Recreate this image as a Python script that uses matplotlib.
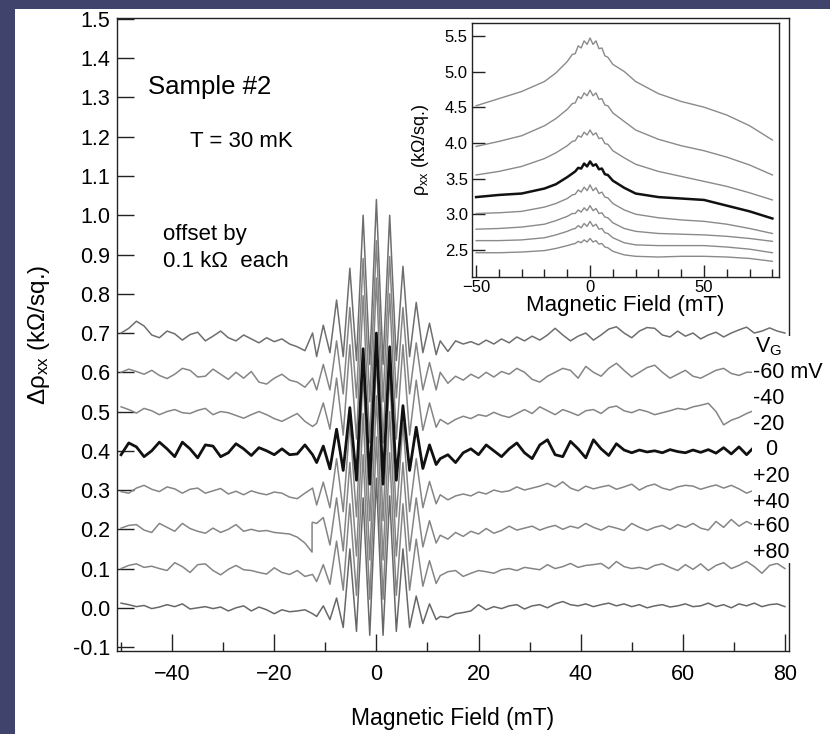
import numpy as np
import matplotlib
matplotlib.use("Agg")
import matplotlib.pyplot as plt
from matplotlib.patches import Rectangle
from matplotlib.ticker import MultipleLocator, FormatStrFormatter

plt.rcParams["font.family"] = ["Liberation Sans", "DejaVu Sans"]
plt.rcParams["mathtext.fontset"] = "custom"
plt.rcParams["mathtext.rm"] = "Liberation Sans"
plt.rcParams["mathtext.it"] = "Liberation Sans:italic"
plt.rcParams["lines.solid_joinstyle"] = "round"

# field grids (mT)
field_left = np.arange(-50.0, -12.0, 1.5)
field_mid = np.arange(-11.7, 11.8, 1.3)
field_right = np.arange(12.5, 80.1, 1.5)

# gate voltages / offsets (kOhm)
gate_labels = ["-60 mV", "-40", "-20", "0", "+20", "+40", "+60", "+80"]
offsets = [0.7, 0.6, 0.5, 0.4, 0.3, 0.2, 0.1, 0.0]

# deviations from offset, in Ohm
m60_left = [0, 12, 30, 18, -5, -12, 5, -2, -18, -4, 2, -20, -8, 5, -12, -20, -5, -15, -25, -12, -22, -15, -28, -35, -45, 0]
m60_mid = [-60, 20, -50, 84, -60, 165, -70, 300, -80, 340, -80, 300, -70, 170, -60, 78, -50, 25, -55]
m60_right = [-20, -47, -20, -28, -22, -30, -18, -28, -15, -25, -10, -20, -8, -18, -5, 12, -5, -20, -8, 0, -18, -5, 10, 16, 0, -12, 5, 14, 12, -5, -10, 5, -8, 0, -15, -5, 2, -10, 0, 8, 15, 0, 5, 13, 5, 0]

m40_left = [0, 8, 2, -5, 5, -8, -16, -5, 10, 5, -12, -10, 8, -5, -18, 0, -15, 2, -25, -30, -15, -5, -20, -25, -38, -15]
m40_mid = [-45, 20, -45, 80, -55, 165, -65, 290, -75, 335, -75, 295, -65, 165, -55, 75, -45, 25, -45]
m40_right = [0, -28, -10, -20, -5, -15, 0, -12, 2, -5, 10, 0, -18, -25, -10, 0, 10, 5, -15, 15, 0, -10, 10, 23, 5, -12, 0, 12, 18, 0, -15, -5, 5, -10, -15, -5, 5, 10, -3, -8, 0, 0, -5, 0, 3, 0]

m20_left = [12, 5, -4, 8, 2, -8, 0, 5, -3, -5, 3, 8, -8, 0, -3, -10, -17, -8, 0, -8, -18, -25, -15, -5, -25, -38]
m20_mid = [-30, 22, -45, 85, -60, 170, -70, 295, -80, 340, -80, 300, -70, 170, -60, 80, -48, 22, -40]
m20_right = [-20, -32, -20, -12, -18, -8, -12, -2, -10, -15, -5, 5, -5, 12, 2, -8, 5, -2, -10, 2, 5, -5, 10, 14, 2, -3, 5, 0, -8, -3, 2, 8, 5, 12, 16, 21, 0, -34, -22, -15, -5, 3, 5, 5, 5, 5]

zero_left = [-10, 20, 10, -15, 0, 22, 5, -15, 22, 5, -18, 15, 12, -15, -5, 18, 5, -12, 8, 0, -10, 5, -10, -8, 15, -10]
zero_mid = [-30, 12, -46, 55, -50, 110, -75, 260, -85, 300, -85, 265, -75, 115, -50, 60, -45, 15, -35]
zero_right = [-20, -10, -30, -5, 5, -10, 15, 0, -15, 5, 20, -5, -20, 15, 28, -10, -15, 24, 5, -18, 28, 5, -12, 18, 2, -5, 2, -3, 0, -5, 3, -2, -5, 2, -4, 3, -6, 8, -8, 10, -10, 10, -10, 8, -8, 5]

p20_left = [-4, -8, 5, 12, 2, -4, 8, 3, -8, 2, 5, -8, -2, 4, -10, -3, -12, -2, -8, -12, -5, -8, -18, -22, -8, 5]
p20_mid = [-38, 20, -45, 80, -55, 170, -68, 295, -78, 340, -78, 300, -68, 170, -55, 80, -45, 22, -35]
p20_right = [-12, -25, -15, -10, -15, -5, -10, 0, -5, -2, 8, 0, 5, 10, 17, 8, 21, 5, -2, 10, 3, 8, 12, 2, 8, 15, 0, 10, 15, 5, 0, 8, 12, 10, 2, 8, 13, 5, 12, 3, -8, 0, 5, 0, 3, 0]

p40_left = [3, 10, 12, -2, -8, 15, 5, -5, 15, 2, -5, -10, 3, -8, 0, 12, -5, 0, -5, -3, -8, -10, -12, -20, -35, 18]
p40_mid = [15, 30, -40, 80, -55, 170, -68, 295, -78, 340, -78, 300, -68, 170, -55, 80, -45, 22, -35]
p40_right = [-15, -25, -8, -18, -5, -12, 2, -10, -3, 8, -2, 3, 8, -2, 5, 10, 0, 8, 3, 15, 5, -2, 8, 3, -3, 15, 5, -3, 5, 10, 0, 12, 5, 15, 3, -2, 20, 5, 25, 8, 20, 10, 5, 12, 5, 8]
# step in the +40 trace
p40_jump_field = -12.6
p40_jump_values = [-58, 16]

p60_left = [0, 8, 12, 3, 6, 0, -5, 15, 5, -10, 10, 12, -5, -16, -2, 8, -3, -5, -10, -14, 2, -10, -15, -5, -20, -15]
p60_mid = [-33, 10, -40, 70, -55, 165, -68, 290, -78, 335, -78, 295, -68, 165, -55, 75, -45, 20, -38]
p60_right = [-18, -8, -5, -20, -12, -5, -8, -12, -3, 0, -5, 3, 0, -3, 10, 0, 5, 13, 3, 8, 10, 13, 0, 18, 5, 0, 3, -2, 8, 12, 3, -5, 10, -2, 12, -5, 8, 15, 0, 8, 18, 5, -12, 8, 13, 0]

p80_left = [12, 8, 3, 6, -2, 2, 8, 3, 10, -3, 0, 3, -2, 2, -8, 0, 5, -8, 2, -5, -15, -5, -10, -8, -5, -15]
p80_mid = [-22, 5, -30, 25, -50, 150, -60, 280, -70, 330, -70, 285, -60, 150, -50, 30, -40, 10, -30]
p80_right = [-22, -25, -15, -12, -8, 8, -5, 3, -2, 5, 8, -3, 5, 8, 0, 10, 16, 8, 5, 10, 3, 8, 12, 5, 10, 3, 8, 0, 5, 8, 2, 5, 10, 3, 5, 12, 3, 8, 0, 10, 5, 12, 3, 8, 10, 3]

# inset: rho_xx (kOhm/sq.) vs field
inset_field = [-50, -40, -30, -20, -15, -10, -7.8, -6.5, -5.2, -3.9, -2.6, -1.3, 0, 1.3, 2.6, 3.9, 5.2, 6.5, 7.8, 10, 15, 20, 30, 40, 50, 60, 70, 80]
in_m60 = [4.52, 4.62, 4.72, 4.86, 4.98, 5.14, 5.24, 5.25, 5.36, 5.33, 5.43, 5.38, 5.47, 5.38, 5.43, 5.32, 5.33, 5.22, 5.20, 5.10, 5.00, 4.86, 4.69, 4.58, 4.50, 4.39, 4.24, 4.04]
in_m40 = [3.95, 4.02, 4.10, 4.24, 4.34, 4.47, 4.55, 4.56, 4.65, 4.62, 4.70, 4.66, 4.74, 4.66, 4.70, 4.61, 4.62, 4.53, 4.52, 4.42, 4.30, 4.18, 4.05, 3.96, 3.89, 3.80, 3.69, 3.55]
in_m20 = [3.55, 3.60, 3.67, 3.78, 3.86, 3.96, 4.02, 4.03, 4.10, 4.08, 4.15, 4.11, 4.18, 4.11, 4.14, 4.06, 4.07, 3.99, 3.98, 3.89, 3.79, 3.70, 3.60, 3.53, 3.46, 3.39, 3.30, 3.20]
in_0 = [3.24, 3.27, 3.29, 3.36, 3.42, 3.52, 3.57, 3.60, 3.65, 3.64, 3.71, 3.67, 3.74, 3.68, 3.70, 3.63, 3.64, 3.56, 3.55, 3.47, 3.37, 3.29, 3.24, 3.22, 3.20, 3.12, 3.04, 2.94]
in_p20 = [3.01, 3.02, 3.04, 3.10, 3.15, 3.22, 3.27, 3.28, 3.34, 3.31, 3.38, 3.33, 3.41, 3.33, 3.37, 3.29, 3.31, 3.24, 3.23, 3.15, 3.06, 3.00, 2.95, 2.92, 2.90, 2.86, 2.80, 2.73]
in_p40 = [2.79, 2.80, 2.82, 2.86, 2.91, 2.97, 3.01, 3.01, 3.06, 3.03, 3.09, 3.05, 3.12, 3.05, 3.08, 3.01, 3.02, 2.96, 2.95, 2.88, 2.80, 2.76, 2.73, 2.72, 2.71, 2.69, 2.66, 2.62]
in_p60 = [2.63, 2.63, 2.64, 2.67, 2.71, 2.76, 2.79, 2.80, 2.84, 2.81, 2.87, 2.83, 2.90, 2.83, 2.86, 2.79, 2.80, 2.74, 2.73, 2.67, 2.60, 2.57, 2.56, 2.56, 2.56, 2.54, 2.51, 2.46]
in_p80 = [2.46, 2.46, 2.47, 2.49, 2.52, 2.56, 2.58, 2.59, 2.62, 2.60, 2.64, 2.61, 2.66, 2.61, 2.63, 2.58, 2.59, 2.54, 2.53, 2.48, 2.43, 2.41, 2.40, 2.41, 2.41, 2.40, 2.38, 2.34]


def trace(left, mid, right):
    b = np.concatenate([field_left, field_mid, field_right])
    d = np.concatenate([left, mid, right]) / 1000.0
    return b, d


fig = plt.figure(figsize=(8.3, 7.34), dpi=100, facecolor="#40436c")
fig.patches.append(Rectangle((15 / 830, 0), 1, 1 - 9 / 734, transform=fig.transFigure,
                             facecolor="white", edgecolor="none", zorder=-10))

ax = fig.add_axes([117 / 830, 1 - 651 / 734, 672 / 830, 633 / 734])
ax.set_facecolor("none")

gray = "#858585"
series = [
    (m60_left, m60_mid, m60_right, "#6e6e6e", 1.1),
    (m40_left, m40_mid, m40_right, gray, 1.1),
    (m20_left, m20_mid, m20_right, gray, 1.1),
    (zero_left, zero_mid, zero_right, "#111111", 2.0),
    (p20_left, p20_mid, p20_right, gray, 1.1),
    (p40_left, p40_mid, p40_right, gray, 1.1),
    (p60_left, p60_mid, p60_right, gray, 1.1),
    (p80_left, p80_mid, p80_right, "#686868", 1.1),
]
for i, (l, m, r, c, lw) in enumerate(series):
    b, d = trace(l, m, r)
    if i == 5:
        k = len(field_left) - 1
        b = np.insert(b, k, [p40_jump_field, p40_jump_field])
        d = np.insert(d, k, np.array(p40_jump_values) / 1000.0)
    ax.plot(b, d + offsets[i], color=c, lw=lw, zorder=3 if lw > 1.5 else 2)

ax.set_xlim(-50.8, 80.8)
ax.set_ylim(-0.110, 1.5025)
ax.set_xticks(np.arange(-40, 81, 20))
ax.xaxis.set_minor_locator(MultipleLocator(10))
ax.set_yticks(np.arange(-0.1, 1.51, 0.1))
ax.yaxis.set_major_formatter(FormatStrFormatter("%.1f"))
ax.tick_params(which="both", direction="in", top=False, right=False, width=1, color="#222222")
ax.tick_params(which="major", length=12, labelsize=15.5)
ax.tick_params(which="minor", length=6.5)
ax.tick_params(axis="x", pad=9)
ax.tick_params(axis="y", pad=5)
for s in ax.spines.values():
    s.set_linewidth(1.0)
    s.set_color("#222222")

ax.set_xlabel("Magnetic Field (mT)", fontsize=16.5, labelpad=16)
ax.set_ylabel("Δρ$_{\\rm xx}$ (kΩ/sq.)", fontsize=17.5)
ax.yaxis.set_label_coords(-0.097, 0.5)

ax.text(-44.7, 1.327, "Sample #2", fontsize=18.5, ha="left", va="center")
ax.text(-36.5, 1.187, "T = 30 mK", fontsize=16, ha="left", va="center")
ax.text(-41.7, 0.950, "offset by", fontsize=16, ha="left", va="center")
ax.text(-41.7, 0.881, "0.1 kΩ  each", fontsize=16, ha="left", va="center")

# gate-voltage labels on a white block over the trace ends
ax.add_patch(Rectangle((752 / 830, 1 - 563 / 734), 78 / 830, 227 / 734, transform=fig.transFigure,
                       facecolor="white", edgecolor="none", clip_on=False, zorder=10))
ax.text(755 / 830, 1 - 347 / 734, "V$_{\\rm G}$", transform=fig.transFigure, fontsize=15.5,
        ha="left", va="center", zorder=11)
label_y = [372, 398, 425, 450, 477, 502, 527, 552]
for lab, yy in zip(gate_labels, label_y):
    x0 = 765 if lab == "0" else 753
    ax.text(x0 / 830, 1 - yy / 734, lab, transform=fig.transFigure, fontsize=15.5,
            ha="left", va="center", zorder=11)

# inset
ins = fig.add_axes([472 / 830, 1 - 277 / 734, 307 / 830, 254 / 734])
ins.set_facecolor("white")
for i, vals in enumerate([in_m60, in_m40, in_m20, in_0, in_p20, in_p40, in_p60, in_p80]):
    if i == 3:
        ins.plot(inset_field, vals, color="#111111", lw=1.8, zorder=3)
    else:
        ins.plot(inset_field, vals, color="#8a8a8a", lw=1.0)
ins.set_xlim(-51.8, 82.9)
ins.set_ylim(2.12, 5.68)
ins.set_xticks([-50, 0, 50])
ins.xaxis.set_minor_locator(MultipleLocator(10))
ins.set_yticks(np.arange(2.5, 5.51, 0.5))
ins.yaxis.set_major_formatter(FormatStrFormatter("%.1f"))
ins.tick_params(which="both", direction="in", top=False, right=False, width=1, color="#222222")
ins.tick_params(which="major", length=9, labelsize=12, pad=3)
ins.tick_params(axis="x", pad=2)
ins.tick_params(which="minor", length=5.5)
for s in ins.spines.values():
    s.set_linewidth(1.0)
    s.set_color("#222222")
ins.set_xlabel("Magnetic Field (mT)", fontsize=16, labelpad=0)
ins.set_ylabel("ρ$_{\\rm xx}$ (kΩ/sq.)", fontsize=13)
ins.yaxis.set_label_coords(-0.135, 0.5)

fig.savefig("out.png", dpi=100, facecolor=fig.get_facecolor())
